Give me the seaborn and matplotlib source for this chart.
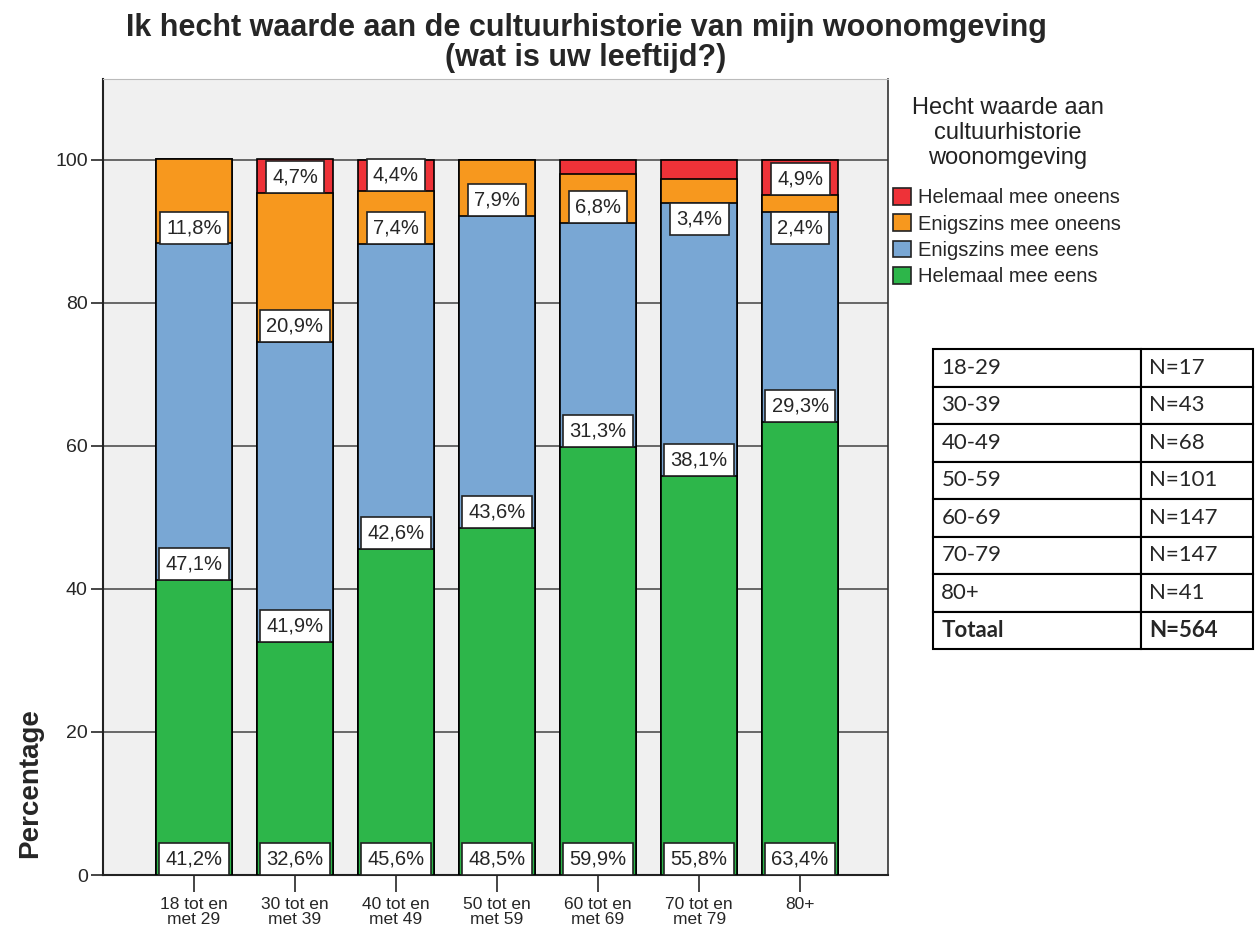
import pandas as pd
import matplotlib.pyplot as plt
import seaborn as sns
from matplotlib.patches import Patch

# Data
ages = ['18 tot en\nmet 29', '30 tot en\nmet 39', '40 tot en\nmet 49', '50 tot en\nmet 59',
        '60 tot en\nmet 69', '70 tot en\nmet 79', '80+']
helemaal_eens = [41.2, 32.6, 45.6, 48.5, 59.9, 55.8, 63.4]
enigszins_eens = [47.1, 41.9, 42.6, 43.6, 31.3, 38.1, 29.3]
enigszins_oneens = [11.8, 20.9, 7.4, 7.9, 6.8, 3.4, 2.4]
helemaal_oneens = [0.0, 4.7, 4.4, 0.0, 2.0, 2.7, 4.9]
red_labelled = [False, True, True, False, False, False, True]

categories = ['Helemaal mee oneens', 'Enigszins mee oneens', 'Enigszins mee eens', 'Helemaal mee eens']
colors = ['#ee3238', '#f7981e', '#79a7d4', '#2db64a']

groups = ['18-29', '30-39', '40-49', '50-59', '60-69', '70-79', '80+']
n_values = [17, 43, 68, 101, 147, 147, 41]
n_total = 564

sns.set_style('white')
plt.rcParams['font.family'] = ['Liberation Sans', 'DejaVu Sans']

df = pd.DataFrame({'Leeftijd': ages, 'g': helemaal_eens, 'b': enigszins_eens,
                   'o': enigszins_oneens, 'r': helemaal_oneens})
df['cum_g'] = df['g']
df['cum_b'] = df['cum_g'] + df['b']
df['cum_o'] = df['cum_b'] + df['o']
df['cum_r'] = df['cum_o'] + df['r']

fig = plt.figure(figsize=(12.56, 9.31), dpi=100)
ax = fig.add_axes([103 / 1256, 1 - 875 / 931, (888 - 103) / 1256, (875 - 79) / 931])
ax.set_facecolor('#f0f0f0')

# stacked bars: draw cumulative totals from the top down
for col, c in zip(['cum_r', 'cum_o', 'cum_b', 'cum_g'], colors):
    sns.barplot(data=df, x='Leeftijd', y=col, color=c, saturation=1, width=0.76,
                edgecolor='black', linewidth=1.2, ax=ax, zorder=3)

ax.set_ylim(0, 111.3)
ax.set_xlim(-0.9, 6.87)
ax.set_yticks([0, 20, 40, 60, 80, 100])
ax.yaxis.grid(True, color='#505050', linewidth=1.2)
ax.set_axisbelow(True)
ax.set_xlabel('')
ax.set_ylabel('')
ax.tick_params(axis='y', direction='out', length=9, width=1.2, labelsize=14, left=True, pad=2)
ax.tick_params(axis='x', direction='out', length=12, width=1.2, bottom=True, pad=4)
for lbl in ax.get_xticklabels():
    lbl.set_fontsize(12.5)
    lbl.set_linespacing(0.95)
for side in ['left', 'bottom']:
    ax.spines[side].set_color('#222222')
    ax.spines[side].set_linewidth(1.5)
ax.spines['right'].set_color('#333333')
ax.spines['right'].set_linewidth(1.2)
ax.spines['top'].set_color('#bbbbbb')

# percentage labels
box = dict(boxstyle='square,pad=0.32', fc='white', ec='#222222', lw=1.2)
for i in range(len(ages)):
    segs = [(0, df['g'][i], True),
            (df['cum_g'][i], df['b'][i], True),
            (df['cum_b'][i], df['o'][i], True),
            (df['cum_o'][i], df['r'][i], red_labelled[i])]
    for base, val, show in segs:
        if val <= 0 or not show:
            continue
        txt = f'{val:.1f}%'.replace('.', ',')
        if val >= 4:
            ax.text(i, base + 0.9, txt, ha='center', va='bottom', fontsize=14.5,
                    bbox=box, zorder=5)
        else:
            ax.text(i, base - 0.9, txt, ha='center', va='top', fontsize=14.5,
                    bbox=box, zorder=5)

fig.text(586 / 1256, 1 - 13 / 931, 'Ik hecht waarde aan de cultuurhistorie van mijn woonomgeving\n(wat is uw leeftijd?)',
         ha='center', va='top', fontsize=22, fontweight='bold', linespacing=1.0)
fig.text(30 / 1256, 1 - 783 / 931, 'Percentage', rotation=90, ha='center', va='center',
         fontsize=20, fontweight='bold')

# legend title drawn separately, centred over the entries
fig.text(1008 / 1256, 1 - 97 / 931, 'Hecht waarde aan\ncultuurhistorie\nwoonomgeving',
         ha='center', va='top', fontsize=17, color='#222222', linespacing=1.18)
handles = [Patch(facecolor=c, edgecolor='#222222', linewidth=1.2) for c in colors]
leg = fig.legend(handles, categories, loc='upper left', bbox_to_anchor=(893 / 1256, 1 - 188 / 931),
                 frameon=False, fontsize=14.5, handlelength=0.9, handleheight=0.9,
                 handletextpad=0.35, labelspacing=0.35, borderaxespad=0, borderpad=0)

# N table
tax = fig.add_axes([933 / 1256, 1 - 649 / 931, (1253 - 933) / 1256, (649 - 349) / 931])
tax.axis('off')
rows = [[g, f'N={n}'] for g, n in zip(groups, n_values)] + [['Totaal', f'N={n_total}']]
tbl = tax.table(cellText=rows, colWidths=[208 / 320, 112 / 320], bbox=[0, 0, 1, 1], cellLoc='left')
tbl.auto_set_font_size(False)
for (r, c), cell in tbl.get_celld().items():
    cell.set_linewidth(1.5)
    cell.set_edgecolor('black')
    cell.PAD = 0.04 if c == 0 else 0.07
    cell.get_text().set_fontsize(16)
    cell.get_text().set_family(['Lato', 'DejaVu Sans'])
    if r == len(rows) - 1:
        cell.get_text().set_fontweight('bold')

fig.savefig('out.png', dpi=100)
